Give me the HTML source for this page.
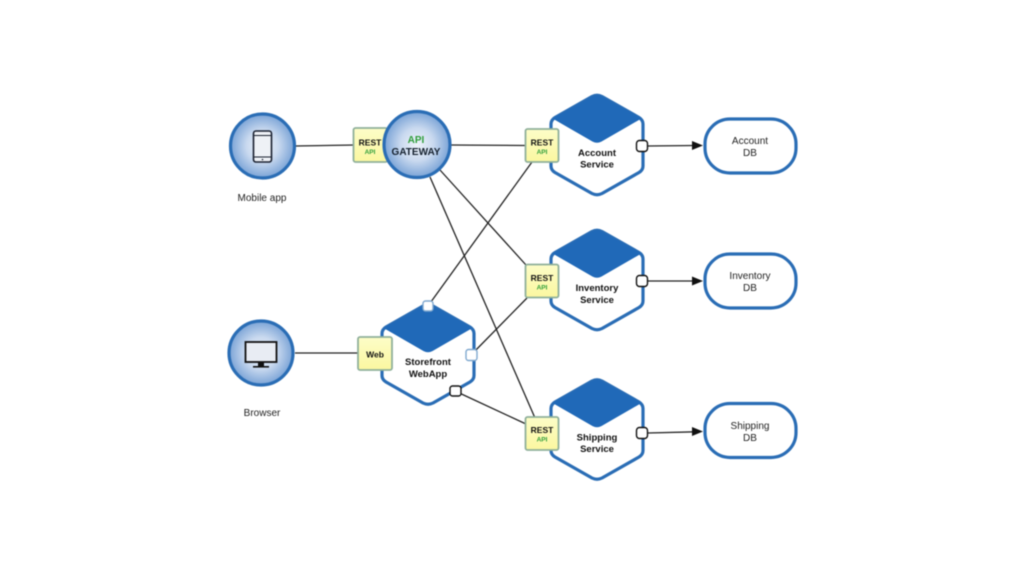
<!DOCTYPE html>
<html><head><meta charset="utf-8"><style>
html,body{margin:0;padding:0;background:#fff;width:1024px;height:576px;overflow:hidden}
svg{display:block;filter:blur(.45px)}
text{font-family:"Liberation Sans",sans-serif;text-anchor:middle;fill:#111}
.b{font-weight:700;font-size:9.500px}
.n{font-size:10px;fill:#222}
.g{font-weight:700;font-size:6.500px;fill:#2f9e3a}
.hex{fill:#fff;stroke:#2a6db5;stroke-width:3.200;stroke-linejoin:round}
.dia{fill:#2069b8;stroke:#2069b8;stroke-width:1.500;stroke-linejoin:round}
.box{fill:url(#y);stroke:#8fb09a;stroke-width:1.800}
.db{fill:#fff;stroke:#2a6db5;stroke-width:3.200}
.c{fill:url(#blue);stroke:#2a6db5;stroke-width:3.200}
.l{stroke:#222;stroke-width:1.300;fill:none}
.p{fill:#fff;stroke:#111;stroke-width:1.400}
.pb{fill:#fff;stroke:#7fa8cf;stroke-width:1.400}
</style></head><body>
<svg width="1024" height="576" viewBox="0 0 1024 576" xmlns="http://www.w3.org/2000/svg">
<defs>
<radialGradient id="blue" cx="50%" cy="50%" r="50%"><stop offset="0" stop-color="#eef3fa"/><stop offset=".5" stop-color="#c9d9ef"/><stop offset="1" stop-color="#7aa3d6"/></radialGradient>
<linearGradient id="y" x1="0" y1="0" x2="0" y2="1"><stop offset="0" stop-color="#fdfdc8"/><stop offset="1" stop-color="#fbf7a0"/></linearGradient>
<g id="h">
<path class="hex" d="M592 96.500Q597 94 602 96.500L639 117.500Q643 120 643 124V166Q643 170 639 172.500L602 193.500Q597 196 592 193.500L555 172.500Q551 170 551 166V124Q551 120 555 117.500Z"/>
<path class="dia" d="M593 97Q597 94.500 601 97L640 118.500L601 141Q597 143 593 141L554 118.500Z"/>
</g>
</defs>

<g class="l">
<path d="M296 146L354 145"/>
<path d="M451 145L526 145.500"/>
<path d="M440 170L526 265"/>
<path d="M430 177L535 418"/>
<path d="M428 306L532 162"/>
<path d="M471 355L527 298"/>
<path d="M455 391L526 424"/>
<path d="M295 353L358 353"/>
<path d="M648 146L695 145.500"/>
<path d="M648 281L695 281"/>
<path d="M648 433L695 431.800"/>
</g>
<g fill="#111">
<path d="M703 145.500L692 141V150Z"/>
<path d="M703 281L692 276.500V285.500Z"/>
<path d="M703 431.500L692 427V436Z"/>
</g>

<circle class="c" cx="262.500" cy="146" r="32"/>
<rect x="253.500" y="131" width="18" height="31" rx="2.500" fill="#eef1f6" stroke="#1a2030" stroke-width="1.600"/>
<path d="M254 135.500H271M254 157H271" stroke="#1a2030" stroke-width="1"/>
<circle cx="262.500" cy="159.500" r=".8" fill="#1a2030"/>
<text class="n" x="262" y="201">Mobile app</text>

<rect class="box" x="353.500" y="128" width="34" height="34" rx="2"/>
<text class="b" x="370" y="145.500" style="font-size:8.500px">REST</text>
<text class="g" x="370" y="154">API</text>
<circle class="c" cx="417" cy="144.500" r="33"/>
<text x="416" y="143" style="font-size:10px;font-weight:700;fill:#2f9e3a">API</text>
<text x="416" y="155" style="font-size:10px;font-weight:700;fill:#14202e">GATEWAY</text>

<circle class="c" cx="261" cy="353" r="32"/>
<rect x="245.500" y="342" width="31" height="20" fill="#e8ecf3" stroke="#111" stroke-width="1.800"/>
<rect x="258" y="362" width="6" height="4" fill="#111"/>
<rect x="253" y="366" width="16" height="1.600" fill="#111"/>
<text class="n" x="262" y="416">Browser</text>

<use href="#h" transform="translate(-169 209.500)"/>
<rect class="box" x="358" y="337" width="34" height="33" rx="2"/>
<text class="b" x="375" y="357.500" style="font-size:8.500px">Web</text>
<text class="b" x="428" y="365">Storefront</text>
<text class="b" x="428" y="377">WebApp</text>
<rect class="pb" x="423" y="301" width="10" height="10" rx="2.500"/>
<rect class="pb" x="466" y="349.500" width="11" height="11" rx="2.500"/>
<rect class="p" x="450" y="386" width="11" height="10" rx="2.500"/>

<use href="#h"/>
<rect class="box" x="525.500" y="129" width="33" height="33" rx="2"/>
<text class="b" x="542" y="145.500" style="font-size:8.500px">REST</text>
<text class="g" x="542" y="154">API</text>
<text class="b" x="597" y="156">Account</text>
<text class="b" x="597" y="167.500">Service</text>
<rect class="p" x="636.500" y="140.500" width="11" height="11" rx="3"/>
<rect class="db" x="705" y="119" width="91" height="54" rx="25"/>
<text class="n" x="750" y="144">Account</text>
<text class="n" x="750" y="156">DB</text>

<use href="#h" transform="translate(0 135)"/>
<rect class="box" x="525.500" y="264.500" width="33" height="33" rx="2"/>
<text class="b" x="542" y="281" style="font-size:8.500px">REST</text>
<text class="g" x="542" y="289.500">API</text>
<text class="b" x="597" y="291">Inventory</text>
<text class="b" x="597" y="303">Service</text>
<rect class="p" x="636.500" y="275.500" width="11" height="11" rx="3"/>
<rect class="db" x="705" y="254" width="91" height="54" rx="25"/>
<text class="n" x="750" y="279">Inventory</text>
<text class="n" x="750" y="291">DB</text>

<use href="#h" transform="translate(0 284.500)"/>
<rect class="box" x="525.500" y="417" width="33" height="33" rx="2"/>
<text class="b" x="542" y="433" style="font-size:8.500px">REST</text>
<text class="g" x="542" y="441.500">API</text>
<text class="b" x="597" y="440.500">Shipping</text>
<text class="b" x="597" y="452">Service</text>
<rect class="p" x="636.500" y="427.500" width="11" height="11" rx="3"/>
<rect class="db" x="705" y="403.500" width="91" height="54" rx="25"/>
<text class="n" x="750" y="429">Shipping</text>
<text class="n" x="750" y="441">DB</text>
</svg>
</body></html>
